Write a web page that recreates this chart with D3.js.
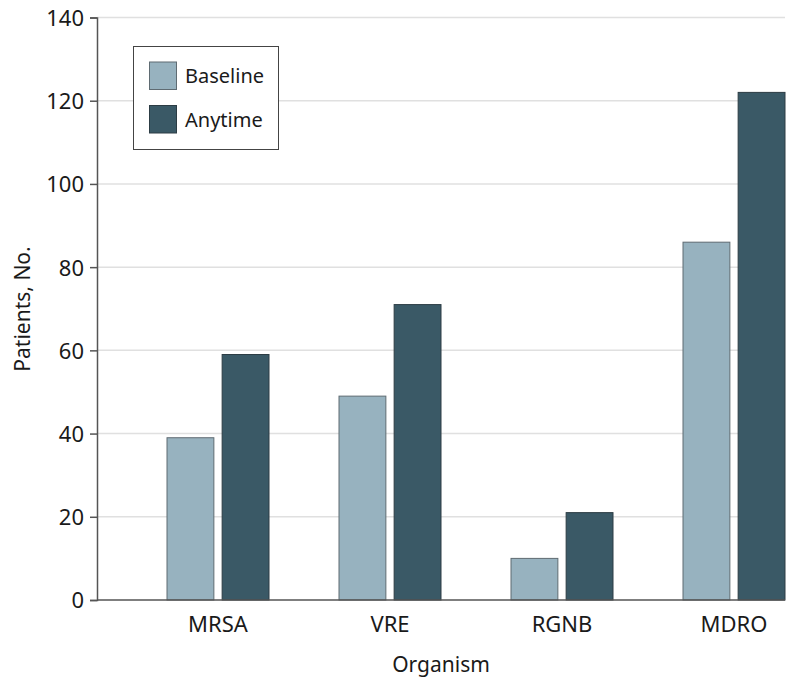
<!DOCTYPE html>
<html>
<head>
<meta charset="utf-8">
<script src="https://cdn.jsdelivr.net/npm/d3@7"></script>
<style>
  html, body { margin: 0; padding: 0; background: #fff; }
  text { font-family: "Noto Sans", "Open Sans", sans-serif; fill: #1a1a1a; }
</style>
</head>
<body>
<svg id="chart" width="796" height="686"></svg>
<script>
const categories = ["MRSA", "VRE", "RGNB", "MDRO"];
const series = ["Baseline", "Anytime"];
const baselineValues = [39, 49, 10, 86];
const anytimeValues = [59, 71, 21, 122];
const yTicks = [0, 20, 40, 60, 80, 100, 120, 140];
const colors = ["#97b2bf", "#3a5966"];

const svg = d3.select("#chart");
const mLeft = 97, mRight = 785, mTop = 17.5, mBottom = 600;

const y = d3.scaleLinear().domain([0, 140]).range([mBottom, mTop]);
const x0 = d3.scaleBand().domain(categories).range([mLeft, mRight])
  .paddingInner(0.407).paddingOuter(0.2035).align(1);
const x1 = d3.scaleBand().domain(series).range([0, x0.bandwidth()]).paddingInner(0.15);
const color = d3.scaleOrdinal().domain(series).range(colors);

// gridlines
svg.append("g").selectAll("line").data(yTicks.filter(d => d > 0)).join("line")
  .attr("x1", mLeft).attr("x2", mRight)
  .attr("y1", d => y(d)).attr("y2", d => y(d))
  .attr("stroke", "#e0e0e0").attr("stroke-width", 1.5);

const data = categories.map((c, i) => ({ cat: c, vals: [baselineValues[i], anytimeValues[i]] }));

// bars
const groups = svg.append("g").selectAll("g").data(data).join("g")
  .attr("transform", d => `translate(${x0(d.cat)},0)`);
groups.selectAll("rect").data(d => series.map((s, j) => ({ s, v: d.vals[j] }))).join("rect")
  .attr("x", d => x1(d.s))
  .attr("width", x1.bandwidth())
  .attr("y", d => y(d.v))
  .attr("height", d => mBottom - y(d.v))
  .attr("fill", d => color(d.s))
  .attr("stroke", d => d.s === "Baseline" ? "#5f6b72" : "#2c3c44")
  .attr("stroke-width", 1);

// y axis
const yAxis = svg.append("g").attr("transform", `translate(${mLeft},0)`)
  .call(d3.axisLeft(y).tickValues(yTicks).tickSize(7).tickPadding(6).tickFormat(d3.format("d")));
yAxis.select(".domain").attr("stroke", "#555").attr("stroke-width", 1.5);
yAxis.selectAll(".tick line").attr("stroke", "#555").attr("stroke-width", 1.5);
yAxis.selectAll(".tick text").attr("font-size", 22).attr("fill", "#1a1a1a")
  .attr("font-family", "Noto Sans").attr("dy", "0.36em");

// x axis
const xAxis = svg.append("g").attr("transform", `translate(0,${mBottom})`)
  .call(d3.axisBottom(x0).tickSize(0).tickPadding(16));
xAxis.select(".domain").attr("stroke", "#555").attr("stroke-width", 1.5)
  .attr("d", `M${mLeft},0H${mRight}`);
xAxis.selectAll(".tick text").attr("font-size", 22).attr("fill", "#1a1a1a")
  .attr("font-family", "Noto Sans").attr("dy", "0.71em");

// axis titles
svg.append("text").attr("x", 441).attr("y", 672).attr("text-anchor", "middle")
  .attr("font-size", 21).text("Organism");
svg.append("text").attr("transform", "translate(30,309) rotate(-90)")
  .attr("text-anchor", "middle").attr("font-size", 21).text("Patients, No.");

// legend
const lg = svg.append("g");
lg.append("rect").attr("x", 133.5).attr("y", 46.5).attr("width", 145).attr("height", 103)
  .attr("fill", "#fff").attr("stroke", "#444").attr("stroke-width", 1);
series.forEach((s, i) => {
  const yy = 62 + i * 43.5;
  lg.append("rect").attr("x", 149.5).attr("y", yy).attr("width", 27).attr("height", 27.5)
    .attr("fill", color(s)).attr("stroke", i === 0 ? "#5f6b72" : "#2c3c44");
  lg.append("text").attr("x", 185).attr("y", yy + 21).attr("font-size", 20).text(s);
});
</script>
</body>
</html>
